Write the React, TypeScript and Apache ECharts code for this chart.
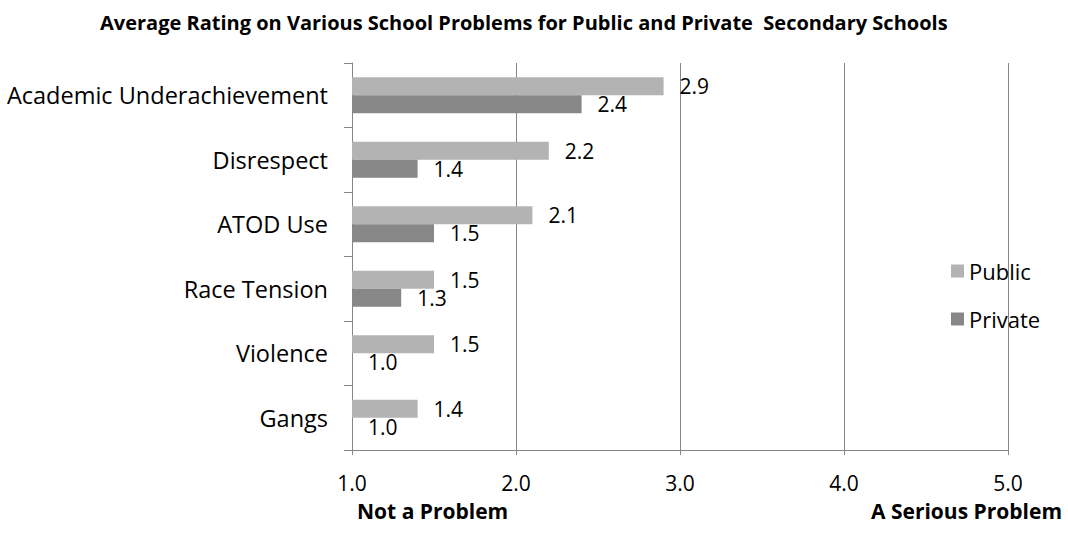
import React, { useEffect, useRef } from "react";
import * as echarts from "echarts";

const categories = ["Academic Underachievement", "Disrespect", "ATOD Use", "Race Tension", "Violence", "Gangs"];
const publicValues = [2.9, 2.2, 2.1, 1.5, 1.5, 1.4];
const privateValues = [2.4, 1.4, 1.5, 1.3, 1.0, 1.0];
const xTicks = [1, 2, 3, 4, 5];

const FONT = "'Open Sans', sans-serif";

export default function App() {
  const ref = useRef<HTMLDivElement>(null);
  useEffect(() => {
    const chart = echarts.init(ref.current!, null, { renderer: "svg" });
    const lbl = {
      show: true,
      position: "right",
      distance: 16,
      color: "#000",
      fontSize: 21,
      fontFamily: FONT,
      formatter: (p: any) => Number(p.value).toFixed(1),
    };
    chart.setOption({
      animation: false,
      title: {
        text: "Average Rating on Various School Problems for Public and Private  Secondary Schools",
        left: 95,
        top: 7,
        textStyle: { fontSize: 20, fontWeight: "bold", fontFamily: FONT, color: "#000" },
      },
      grid: { left: 352, right: 60, top: 63, bottom: 85, containLabel: false },
      legend: {
        orient: "vertical",
        left: 946,
        top: 255,
        itemGap: 26,
        itemWidth: 13,
        itemHeight: 13,
        icon: "rect",
        data: ["Public", "Private"],
        textStyle: { fontSize: 22, fontFamily: FONT, color: "#000", padding: [0, 0, 0, 0] },
      },
      xAxis: {
        type: "value",
        min: xTicks[0],
        max: xTicks[xTicks.length - 1],
        interval: 1,
        axisLine: { show: true, lineStyle: { color: "#868686" } },
        axisTick: { show: true, length: 5, lineStyle: { color: "#868686" } },
        splitLine: { show: true, lineStyle: { color: "#868686", width: 1 } },
        axisLabel: {
          fontSize: 21,
          fontFamily: FONT,
          color: "#000",
          margin: 22,
          formatter: (v: number) => v.toFixed(1),
        },
      },
      yAxis: {
        type: "category",
        inverse: true,
        data: categories,
        axisLine: { show: true, lineStyle: { color: "#868686" } },
        axisTick: { show: true, length: 8, lineStyle: { color: "#868686" } },
        axisLabel: { fontSize: 23.5, fontFamily: FONT, color: "#000", margin: 24 },
      },
      series: [
        {
          name: "Public",
          type: "bar",
          data: publicValues,
          barWidth: 18,
          barGap: "0%",
          itemStyle: { color: "#b3b3b3" },
          label: lbl,
        },
        {
          name: "Private",
          type: "bar",
          data: privateValues,
          barWidth: 18,
          barGap: "0%",
          itemStyle: { color: "#878787" },
          label: lbl,
        },
      ],
      graphic: [
        {
          type: "text",
          left: 357,
          top: 500,
          style: { text: "Not a Problem", fontSize: 21, fontWeight: "bold", fontFamily: FONT, fill: "#000" },
        },
        {
          type: "text",
          right: 6,
          top: 500,
          style: { text: "A Serious Problem", fontSize: 21, fontWeight: "bold", fontFamily: FONT, fill: "#000" },
        },
      ],
    });
    return () => chart.dispose();
  }, []);
  return <div ref={ref} style={{ width: 1068, height: 535, position: "absolute", left: 0, top: 0 }} />;
}
